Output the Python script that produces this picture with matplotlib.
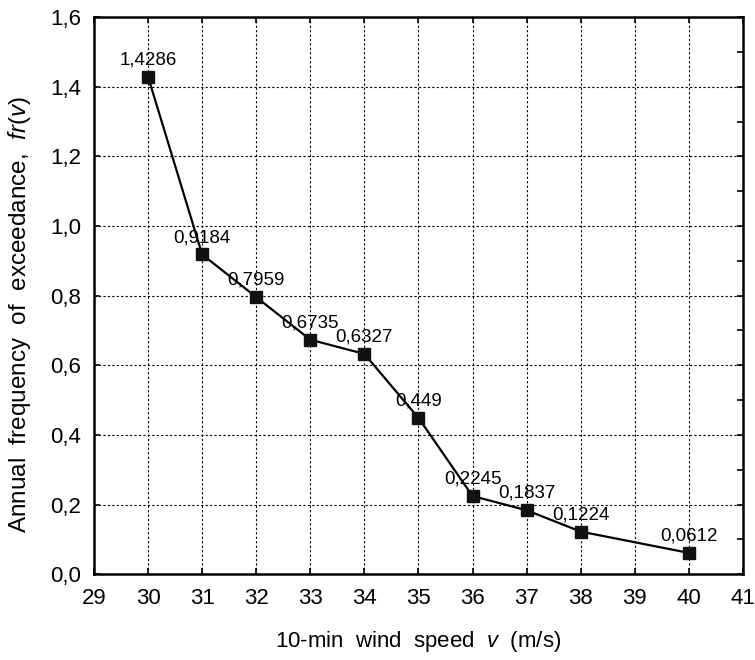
import numpy as np
import matplotlib.pyplot as plt
from matplotlib.ticker import MultipleLocator

plt.rcParams['font.family'] = ['Liberation Sans', 'DejaVu Sans']
plt.rcParams['mathtext.fontset'] = 'custom'
plt.rcParams['mathtext.rm'] = 'Liberation Sans'
plt.rcParams['mathtext.it'] = 'Liberation Sans:italic'

# data
wind_speed = [30, 31, 32, 33, 34, 35, 36, 37, 38, 40]
freq = [1.4286, 0.9184, 0.7959, 0.6735, 0.6327, 0.449, 0.2245, 0.1837, 0.1224, 0.0612]
labels = ["1,4286", "0,9184", "0,7959", "0,6735", "0,6327", "0,449",
          "0,2245", "0,1837", "0,1224", "0,0612"]


def comma(x, pos):
    return f"{x:.1f}".replace(".", ",")


fig = plt.figure(figsize=(7.55, 6.6), dpi=100)
ax = fig.add_axes([0.1245, 0.130, 0.8595, 0.844])

ax.plot(wind_speed, freq, "-", color="black", lw=1.6,
        marker="s", ms=9, mfc="#111111", mec="#111111", zorder=3)

for x, y, s in zip(wind_speed, freq, labels):
    ax.annotate(s, (x, y), xytext=(0, 6), textcoords="offset points",
                ha="center", va="bottom", fontsize=13.5, zorder=4)

ax.set_xlim(29, 41)
ax.set_ylim(0, 1.6)
ax.xaxis.set_major_locator(MultipleLocator(1))
ax.yaxis.set_major_locator(MultipleLocator(0.2))
ax.yaxis.set_minor_locator(MultipleLocator(0.1))
ax.yaxis.set_major_formatter(plt.FuncFormatter(comma))

ax.grid(True, which="major", color="black", ls=(0, (2, 2)), lw=0.8)
ax.set_axisbelow(True)

ax.tick_params(which="major", direction="in", length=4, width=1.2,
               top=True, right=True, labelsize=16)
ax.tick_params(axis="x", pad=10)
ax.tick_params(axis="y", pad=9)
ax.tick_params(which="minor", direction="in", length=4, width=1.2,
               left=False, right=True)

for sp in ax.spines.values():
    sp.set_linewidth(1.8)

ax.set_xlabel(r"10-min  wind  speed  $\mathit{v}$  (m/s)", fontsize=16, labelpad=14)
ax.set_ylabel(r"Annual  frequency  of  exceedance,  $\mathit{fr}$($\mathit{v}$)",
              fontsize=17.5)
ax.yaxis.set_label_coords(-0.094, 0.467)

fig.savefig("out.png", dpi=100)
